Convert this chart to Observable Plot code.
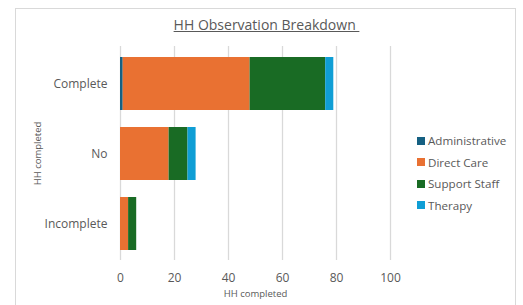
<!DOCTYPE html>
<html><head><meta charset="utf-8">
<script src="https://cdn.jsdelivr.net/npm/d3@7"></script>
<script src="https://cdn.jsdelivr.net/npm/@observablehq/plot@0.6"></script>
<style>
body{margin:0;background:#fff;font-family:"Open Sans",sans-serif;}
#wrap{position:relative;width:523px;height:305px;overflow:hidden;}
#frame{position:absolute;left:15px;top:8px;width:501px;height:310px;border:1px solid #d9d9d9;box-sizing:border-box;}
#title{position:absolute;left:0;width:533px;top:15px;text-align:center;font-size:14px;color:#595959;text-decoration:underline;font-weight:500;white-space:pre;}
#legend{position:absolute;left:417px;top:130px;font-size:11.6px;color:#595959;}
.li{height:21.5px;display:flex;align-items:center;white-space:nowrap;}
.sw{width:8px;height:8px;margin-right:3px;}
svg{position:absolute;left:0;top:0;}
</style></head>
<body><div id="wrap"><div id="frame"></div><div id="title">HH Observation Breakdown </div><div id="legend"></div></div>
<script>
const categories = ["Complete", "No", "Incomplete"];
const seriesNames = ["Administrative", "Direct Care", "Support Staff", "Therapy"];
const administrative = [1, 0, 0];
const directCare = [47, 18, 3];
const supportStaff = [28, 7, 3];
const therapy = [3, 3, 0];
const xTicks = [0, 20, 40, 60, 80, 100];
const colors = ["#156082", "#E97132", "#196B24", "#0F9ED5"];

const seriesValues = [administrative, directCare, supportStaff, therapy];
const data = [];
categories.forEach((c, i) => seriesNames.forEach((s, j) => data.push({cat: c, series: s, value: seriesValues[j][i]})));

const chart = Plot.plot({
  width: 523, height: 305,
  marginLeft: 120, marginRight: 133, marginTop: 46, marginBottom: 45,
  style: {fontFamily: "Open Sans, sans-serif", fontSize: "12px", color: "#595959", background: "transparent", overflow: "visible"},
  x: {domain: [0, 100], ticks: xTicks, grid: false},
  y: {domain: categories, paddingInner: 0.245, paddingOuter: 0.13},
  color: {domain: seriesNames, range: colors},
  marks: [
    Plot.ruleX(xTicks, {stroke: "#d9d9d9", strokeWidth: 1.3}),
    Plot.barX(data, Plot.stackX({x: "value", y: "cat", fill: "series", order: seriesNames})),
    Plot.axisX({ticks: xTicks, tickSize: 0, tickPadding: 13, fontSize: 12, label: null}),
    Plot.axisY({tickSize: 0, tickPadding: 13, fontSize: 12, label: null}),
    Plot.text(["HH completed"], {frameAnchor: "bottom", dy: 36, fontSize: 9.5, fill: "#595959"}),
    Plot.text(["HH completed"], {frameAnchor: "left", dx: -83, rotate: -90, textAnchor: "middle", fontSize: 9.5, fill: "#595959"})
  ]
});
document.getElementById("wrap").appendChild(chart);

const leg = document.getElementById("legend");
seriesNames.forEach((s, j) => {
  const d = document.createElement("div"); d.className = "li";
  const sw = document.createElement("span"); sw.className = "sw"; sw.style.background = colors[j];
  d.appendChild(sw); d.appendChild(document.createTextNode(s)); leg.appendChild(d);
});
</script></body></html>
